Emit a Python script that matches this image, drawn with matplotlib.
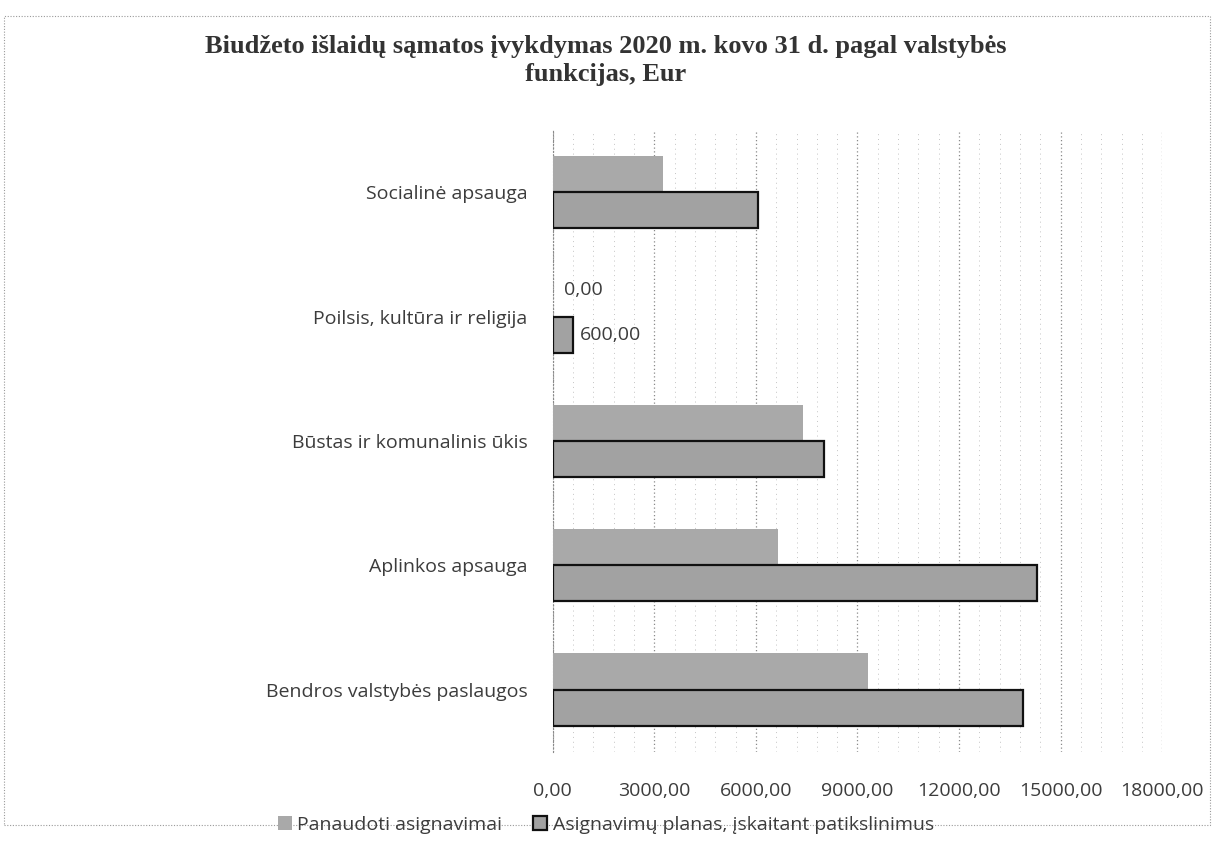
import numpy as np
import matplotlib.pyplot as plt
from matplotlib.patches import Rectangle
from matplotlib.ticker import MultipleLocator, FuncFormatter

# Excel order: first category is drawn at the bottom
categories = [
    "Bendros valstybės paslaugos",
    "Aplinkos apsauga",
    "Būstas ir komunalinis ūkis",
    "Poilsis, kultūra ir religija",
    "Socialinė apsauga",
]
used = [9310.0, 6650.0, 7390.0, 0.0, 3250.0]
plan = [13890.0, 14300.0, 8010.0, 600.0, 6060.0]

series_names = ["Panaudoti asignavimai", "Asignavimų planas, įskaitant patikslinimus"]
title = "Biudžeto išlaidų sąmatos įvykdymas 2020 m. kovo 31 d. pagal valstybės\nfunkcijas, Eur"

# only the labels that are readable in the scan
labelled_category = "Poilsis, kultūra ir religija"

text_color = "#3c3c3c"
sans = ["Open Sans", "DejaVu Sans"]
fsize = 14


def eur(v, _pos=None):
    return f"{v:.2f}".replace(".", ",")


fig = plt.figure(figsize=(12.12, 8.63), dpi=100)
ax = fig.add_axes([0.456, 0.129, 0.503, 0.72])

y = np.arange(len(categories))
h = 0.29

ax.barh(y + h / 2, used, height=h, color="#a9a9a9", edgecolor="none",
        label=series_names[0], zorder=3)
ax.barh(y - h / 2, plan, height=h, color="#a2a2a2", edgecolor="#111111",
        linewidth=1.6, label=series_names[1], zorder=3)

idx = categories.index(labelled_category)
ax.annotate(eur(used[idx]), (used[idx], y[idx] + h / 2), xytext=(8, 6),
            textcoords="offset points", va="center", ha="left",
            fontsize=fsize, color=text_color, family=sans)
ax.annotate(eur(plan[idx]), (plan[idx], y[idx] - h / 2), xytext=(5, 0),
            textcoords="offset points", va="center", ha="left",
            fontsize=fsize, color=text_color, family=sans)

ax.set_xlim(0, 18000)
ax.set_ylim(-0.5, len(categories) - 0.5)
ax.xaxis.set_major_locator(MultipleLocator(3000))
ax.xaxis.set_minor_locator(MultipleLocator(600))
ax.xaxis.set_major_formatter(FuncFormatter(eur))
ax.set_yticks(y)
ax.set_yticklabels(categories)

ax.grid(axis="x", which="major", linestyle=(0, (1, 2)), color="#8a8a8a",
        linewidth=0.9, zorder=0)
ax.grid(axis="x", which="minor", linestyle=(0, (1, 4)), color="#c4c4c4",
        linewidth=0.7, zorder=0)

for side in ["top", "right", "bottom"]:
    ax.spines[side].set_visible(False)
ax.spines["left"].set_linestyle((0, (1, 2)))
ax.spines["left"].set_color("#8a8a8a")

ax.tick_params(axis="both", which="both", length=0, labelcolor=text_color)
ax.tick_params(axis="x", pad=22)
ax.tick_params(axis="y", pad=18)
for lab in ax.get_xticklabels() + ax.get_yticklabels():
    lab.set_fontsize(fsize)
    lab.set_family(sans)

fig.suptitle(title, x=0.5, y=0.96, fontsize=19, fontweight="bold",
             family="Liberation Serif", color="#333333", linespacing=1.3)

fig.legend(loc="center", bbox_to_anchor=(0.5, 0.044), ncol=2, frameon=False,
           handlelength=0.7, handleheight=0.7, handletextpad=0.3,
           columnspacing=1.6, prop={"family": sans, "size": fsize},
           labelcolor=text_color)

# chart frame from the scanned page
fig.add_artist(Rectangle((0.003, 0.044), 0.995, 0.938, transform=fig.transFigure,
                         fill=False, edgecolor="#9a9a9a", linewidth=0.8,
                         linestyle=(0, (1, 1.5))))

fig.savefig("out.png", dpi=100)
